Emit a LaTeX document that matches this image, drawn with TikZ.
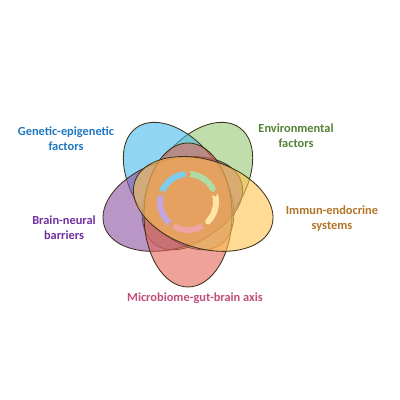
\documentclass[tikz,border=0pt]{standalone}
\usepackage{fontspec}
\setmainfont{Carlito}
\usepackage{tikz}

\definecolor{genetictext}{RGB}{31,120,193}
\definecolor{braintext}{RGB}{112,48,160}
\definecolor{envtext}{RGB}{84,130,53}
\definecolor{immuntext}{RGB}{178,116,38}
\definecolor{microtext}{RGB}{192,78,122}

\definecolor{geneticfill}{RGB}{70,185,235}
\definecolor{envfill}{RGB}{150,200,115}
\definecolor{immunfill}{RGB}{255,195,80}
\definecolor{microfill}{RGB}{228,100,85}
\definecolor{brainfill}{RGB}{140,80,160}
\definecolor{petalline}{RGB}{60,50,25}

\definecolor{ringblue}{RGB}{125,205,240}
\definecolor{ringgreen}{RGB}{175,220,165}
\definecolor{ringyellow}{RGB}{255,228,165}
\definecolor{ringpink}{RGB}{240,165,165}
\definecolor{ringlilac}{RGB}{195,165,225}

\tikzset{
  petal/.style={draw=petalline,line width=0.6pt,fill opacity=0.6},
  factor/.style={align=center,font=\bfseries\fontsize{8.8}{10.8}\selectfont}
}

\begin{document}
\begin{tikzpicture}
      \useasboundingbox (0,0) rectangle (10,10);
      \coordinate (core) at (4.7,5.025);
      \coordinate (ring) at (4.7,4.95);
      % five overlapping petals
      \foreach \ang/\col in {54/envfill,126/geneticfill,198/brainfill,-90/microfill,-18/immunfill}
        \draw[petal,fill=\col,shift={(core)},rotate=\ang] (0.4,0) ellipse [x radius=1.8,y radius=1.1];
      % cycle ring in the middle
      \foreach \c/\col in {129/ringblue,57/ringgreen,-15/ringyellow,-87/ringpink,-159/ringlilac}
        \fill[\col,shift={(ring)}] (\c+31:0.775) arc (\c+31:\c-31:0.775) -- (\c-36:0.7)
          -- (\c-31:0.625) arc (\c-31:\c+31:0.625) -- (\c+26:0.7) -- cycle;
      % labels
      \node[factor,text=genetictext] (genetic) at (1.65,6.53) {Genetic-epigenetic\\factors};
      \node[factor,text=envtext] (env) at (7.4,6.61) {Environmental\\factors};
      \node[factor,text=immuntext] (immun) at (8.3,4.54) {Immun-endocrine\\systems};
      \node[factor,text=braintext] (brain) at (1.6,4.3) {Brain-neural\\barriers};
      \node[factor,text=microtext] (micro) at (4.875,2.55) {Microbiome-gut-brain axis};
    \end{tikzpicture}
\end{document}
